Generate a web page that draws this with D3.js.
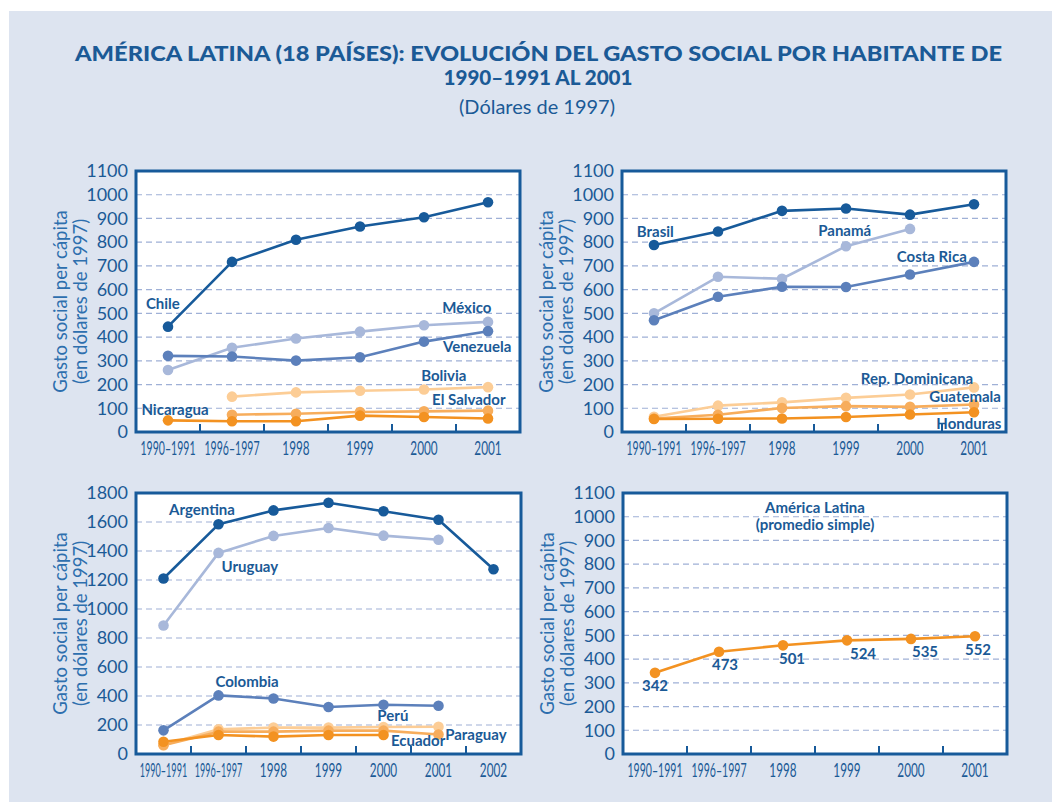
<!DOCTYPE html>
<html><head><meta charset="utf-8">
<script src="https://cdn.jsdelivr.net/npm/d3@7"></script>
<style>
body{margin:0;background:#fff;}
text{font-family:Lato,"Open Sans",sans-serif;}
</style></head>
<body><svg id="c" width="1052" height="802"></svg>
<script>
// ---------- data ----------
const cats6 = ["1990–1991","1996–1997","1998","1999","2000","2001"];
const cats7 = ["1990–1991","1996–1997","1998","1999","2000","2001","2002"];
const ticks1100 = [0,100,200,300,400,500,600,700,800,900,1000,1100];
const ticks1800 = [0,200,400,600,800,1000,1200,1400,1600,1800];

const chile      = [444, 717, 810, 866, 905, 968];
const mexico     = [261, 355, 394, 423, 450, 464];
const venezuela  = [321, 318, 301, 315, 381, 425];
const bolivia    = [null, 149, 167, 174, 179, 189];
const elSalvador = [null, 73, 77, 84, 87, 90];
const nicaragua  = [49, 45, 45, 69, 63, 57];

const brasil        = [788, 845, 932, 942, 916, 960];
const panama        = [500, 654, 646, 783, 856, null];
const costaRica     = [471, 570, 612, 611, 664, 717];
const repDominicana = [64, 111, 125, 144, 158, 188];
const guatemala     = [57, 73, 101, 109, 106, 116];
const honduras      = [55, 56, 57, 63, 74, 83];

const argentina = [1210, 1584, 1680, 1733, 1674, 1616, 1274];
const uruguay   = [886, 1387, 1504, 1559, 1506, 1478, null];
const colombia  = [163, 404, 383, 324, 340, 333, null];
const peru      = [62, 170, 182, 182, 186, 188, null];
const paraguay  = [60, 154, 154, 161, 161, 135, null];
const ecuador   = [85, 131, 120, 131, 131, null, null];

const promedio       = [342, 431, 458, 479, 485, 496];
const promedioLabels = ["342","473","501","524","535","552"];

// ---------- styles ----------
const C = {
  dark:"#175a9a", mid:"#5c80bb", light:"#a8b8da",
  or1:"#f39221", or2:"#f7ad5c", or3:"#fccd96",
  text:"#1b5a96", axisTitle:"#2d6fae", grid:"#9fb0d6", bg:"#dde4f0"
};

const panels = [
  {x0:136, y0:171, w:384, h:261, cats:cats6, max:1100, ticks:ticks1100,
   series:[
     {v:bolivia,c:C.or3},{v:elSalvador,c:C.or2},{v:nicaragua,c:C.or1},
     {v:mexico,c:C.light},{v:venezuela,c:C.mid},{v:chile,c:C.dark}],
   labels:[
     {t:"Chile",i:-0.08,v:539},{t:"México",i:4.67,v:523},{t:"Venezuela",i:4.83,v:358},
     {t:"Bolivia",i:4.31,v:236},{t:"El Salvador",i:4.70,v:135},{t:"Nicaragua",i:0.11,v:93}]},
  {x0:622, y0:171, w:384, h:261, cats:cats6, max:1100, ticks:ticks1100,
   series:[
     {v:repDominicana,c:C.or3},{v:guatemala,c:C.or2},{v:honduras,c:C.or1},
     {v:panama,c:C.light},{v:costaRica,c:C.mid},{v:brasil,c:C.dark}],
   labels:[
     {t:"Brasil",i:0.02,v:843},{t:"Panamá",i:2.98,v:847},{t:"Costa Rica",i:4.34,v:737},
     {t:"Rep. Dominicana",i:4.11,v:223},{t:"Guatemala",i:4.86,v:147},{t:"Honduras",i:4.92,v:34}]},
  {x0:136, y0:493, w:385, h:261, cats:cats7, max:1800, ticks:ticks1800,
   series:[
     {v:peru,c:C.or3},{v:paraguay,c:C.or2},{v:ecuador,c:C.or1},
     {v:uruguay,c:C.light},{v:colombia,c:C.mid},{v:argentina,c:C.dark}],
   labels:[
     {t:"Argentina",i:0.70,v:1683},{t:"Uruguay",i:1.57,v:1290},{t:"Colombia",i:1.52,v:497},
     {t:"Perú",i:4.17,v:262},{t:"Ecuador",i:4.63,v:90},{t:"Paraguay",i:5.68,v:131}]},
  {x0:623, y0:493, w:384, h:261, cats:cats6, max:1100, ticks:ticks1100,
   series:[{v:promedio,c:C.or1}],
   labels:[{t:"América Latina",i:2.5,v:1037},{t:"(promedio simple)",i:2.5,v:965}],
   valueLabels:promedioLabels, valueDx:[0,6,9,16,14,3]}
];

// ---------- draw ----------
const svg = d3.select("#c");
svg.append("rect").attr("x",9).attr("y",11).attr("width",1043).attr("height",791).attr("fill",C.bg);

function fitTo(sel, W){
  sel.attr("textLength",W).attr("lengthAdjust","spacingAndGlyphs");
}

const t1 = svg.append("text").attr("x",538.5).attr("y",61).attr("text-anchor","middle")
  .attr("font-size",20).attr("font-weight",900).attr("fill",C.text)
  .text("AMÉRICA LATINA (18 PAÍSES): EVOLUCIÓN DEL GASTO SOCIAL POR HABITANTE DE");
fitTo(t1, 927);
const t2 = svg.append("text").attr("x",538).attr("y",85).attr("text-anchor","middle")
  .attr("font-size",20).attr("font-weight",900).attr("fill",C.text)
  .text("1990–1991 AL 2001");
fitTo(t2, 189);
const t3 = svg.append("text").attr("x",537).attr("y",114).attr("text-anchor","middle")
  .attr("font-size",19).attr("fill",C.text).text("(Dólares de 1997)");
fitTo(t3, 156);

panels.forEach(p => {
  const g = svg.append("g");
  const x = d3.scaleBand().domain(p.cats).range([p.x0, p.x0+p.w]).padding(0);
  const y = d3.scaleLinear().domain([0,p.max]).range([p.y0+p.h, p.y0]);
  const xi = i => p.x0 + (i+0.5)*x.bandwidth();

  g.append("rect").attr("x",p.x0).attr("y",p.y0).attr("width",p.w).attr("height",p.h).attr("fill","#fff");

  // grid
  g.selectAll(".grid").data(p.ticks.filter(t => t>0 && t<p.max)).join("line")
    .attr("x1",p.x0).attr("x2",p.x0+p.w).attr("y1",d=>y(d)).attr("y2",d=>y(d))
    .attr("stroke",C.grid).attr("stroke-width",1.2).attr("stroke-dasharray","6,4");

  // y axis
  const ya = g.append("g").attr("transform",`translate(${p.x0},0)`)
    .call(d3.axisLeft(y).tickValues(p.ticks).tickSize(0).tickPadding(8).tickFormat(d3.format("d")));
  ya.select(".domain").remove();
  ya.selectAll("text").attr("font-size",18).attr("fill",C.text).attr("font-family","Lato, sans-serif");

  // x axis labels (horizontally condensed via scale transform)
  const xa = g.append("g").attr("transform",`translate(0,${p.y0+p.h})`)
    .call(d3.axisBottom(x).tickSize(0).tickPadding(0));
  xa.select(".domain").remove();
  const bw = x.bandwidth();
  xa.selectAll("text").attr("font-size",19).attr("fill",C.text).attr("font-family","Lato, sans-serif")
    .attr("x",0).attr("y",0).attr("dy","0.35em")
    .each(function(d){
      const w = this.getComputedTextLength();
      const target = d.includes("–") ? Math.min(w*0.64, bw*0.86) : w*0.62;
      d3.select(this).attr("transform",`translate(0,16) scale(${target/w},1)`);
    });

  // inner tick marks at band boundaries
  g.selectAll(".bt").data(p.cats.slice(1)).join("line")
    .attr("x1",d=>x(d)).attr("x2",d=>x(d)).attr("y1",p.y0+p.h).attr("y2",p.y0+p.h-8)
    .attr("stroke",C.dark).attr("stroke-width",2);

  // y title
  const cy = p.y0 + p.h/2;
  [["Gasto social per cápita",-75],["(en dólares de 1997)",-55]].forEach(([t,dx])=>{
    g.append("text").attr("transform",`translate(${p.x0+dx},${cy}) rotate(-90)`)
      .attr("text-anchor","middle").attr("dy","0.35em").attr("font-size",18.5).attr("fill",C.axisTitle).text(t);
  });

  // series
  const line = d3.line().defined(d=>d.v!=null).x(d=>xi(d.i)).y(d=>y(d.v));
  p.series.forEach(s => {
    const pts = s.v.map((v,i)=>({v,i}));
    g.append("path").datum(pts).attr("d",line).attr("fill","none")
      .attr("stroke",s.c).attr("stroke-width",2.6).attr("stroke-linejoin","round");
    g.selectAll(null).data(pts.filter(d=>d.v!=null)).join("circle")
      .attr("cx",d=>xi(d.i)).attr("cy",d=>y(d.v)).attr("r",5.3).attr("fill",s.c);
  });

  // border
  g.append("rect").attr("x",p.x0).attr("y",p.y0).attr("width",p.w).attr("height",p.h)
    .attr("fill","none").attr("stroke",C.dark).attr("stroke-width",3);

  // labels
  p.labels.forEach(l=>{
    g.append("text").attr("x",xi(l.i)).attr("y",y(l.v)).attr("dy","0.35em")
      .attr("text-anchor","middle").attr("font-size",15).attr("font-weight",700)
      .attr("fill",C.text).text(l.t);
  });
  if (p.valueLabels){
    p.valueLabels.forEach((t,i)=>{
      g.append("text").attr("x",xi(i)+p.valueDx[i]).attr("y",y(promedio[i])+13).attr("dy","0.35em")
        .attr("text-anchor","middle").attr("font-size",15).attr("font-weight",700)
        .attr("fill",C.text).text(t);
    });
  }
});
</script></body></html>
